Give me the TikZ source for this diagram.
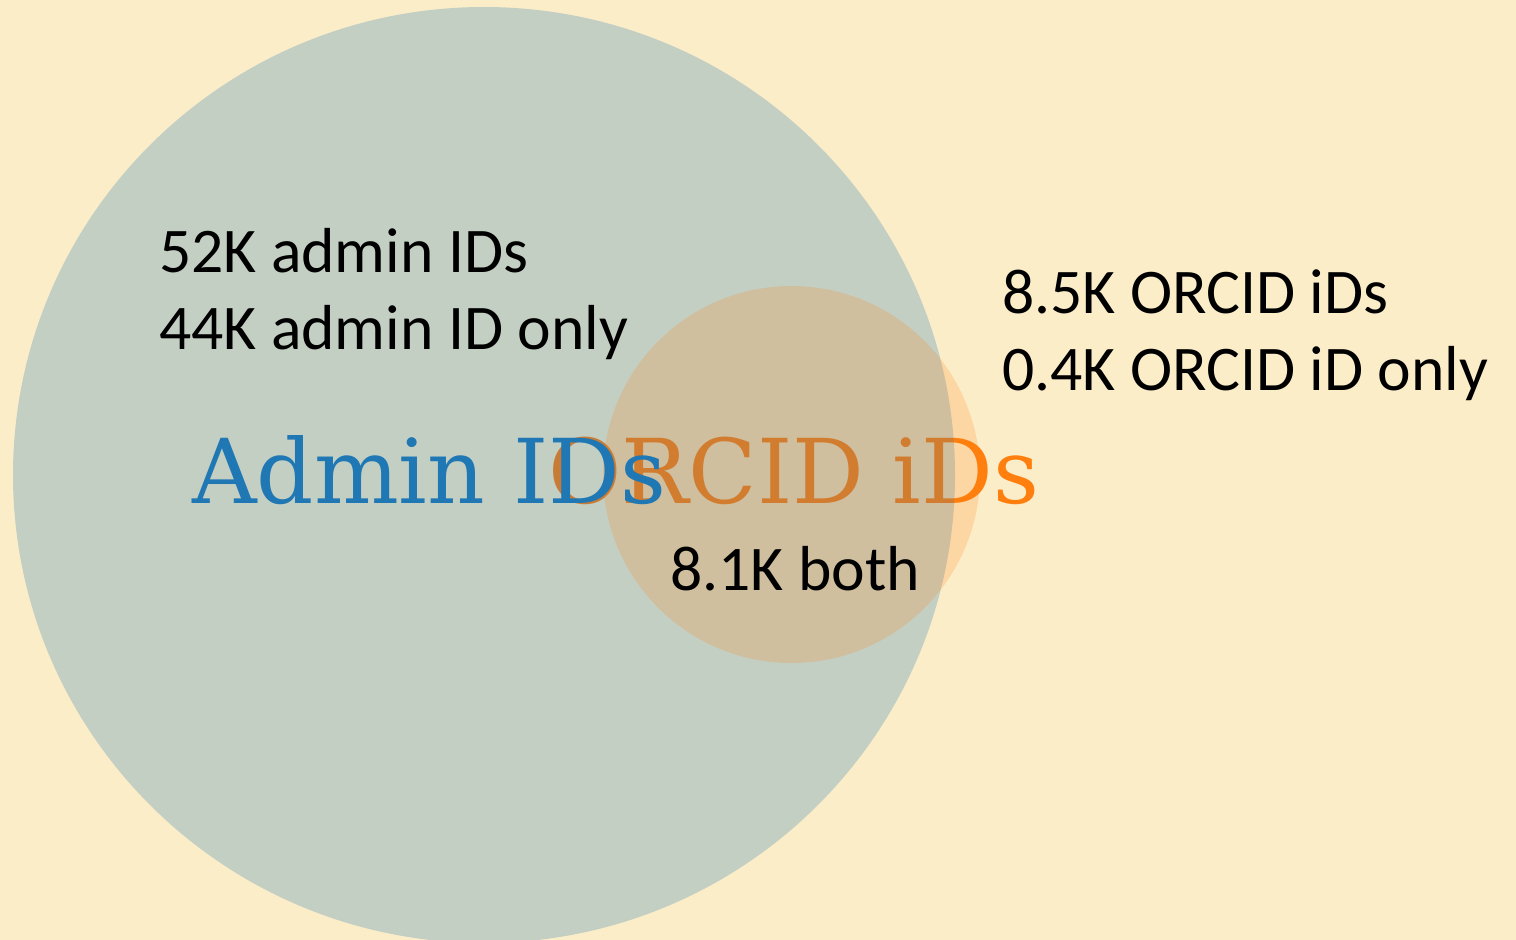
\documentclass[tikz,border=0pt]{standalone}
\usepackage{fontspec}
\setmainfont{Carlito}
\newfontfamily\setlabelfont{DejaVu Serif}
\definecolor{bgcream}{RGB}{252,237,201}
\definecolor{adminblue}{RGB}{31,119,180}
\definecolor{orcidorange}{RGB}{255,127,14}
\tikzset{
  countlabel/.style={anchor=base west, inner sep=0pt, text=black, font=\fontsize{63.6}{77}\selectfont, align=left},
  setlabel/.style={anchor=base west, inner sep=0pt, font=\setlabelfont\fontsize{89.5}{100}\selectfont},
}
\begin{document}
\begin{tikzpicture}[x=1pt,y=-1pt]
\useasboundingbox (0,0) rectangle (1516,940);
\fill[bgcream] (0,0) rectangle (1516,940);
% set label under the circles
\node[setlabel, text=orcidorange] (orcidlabel) at (548,503) {ORCID iDs};
% circles
\fill[adminblue, fill opacity=0.25] (484,475) ellipse [x radius=471, y radius=468];
\fill[orcidorange, fill opacity=0.2] (791.5,474.5) circle [radius=188.5];
% set label on top
\node[setlabel, text=adminblue] (adminlabel) at (192,503) {Admin IDs};
% counts
\node[countlabel] (admincount) at (159,272) {52K admin IDs};
\node[countlabel] (adminonly) at (159,349) {44K admin ID only};
\node[countlabel] (orcidcount) at (1002,313) {8.5K ORCID iDs};
\node[countlabel] (orcidonly) at (1002,390) {0.4K ORCID iD only};
\node[countlabel] (both) at (670,590) {8.1K both};
\end{tikzpicture}
\end{document}
